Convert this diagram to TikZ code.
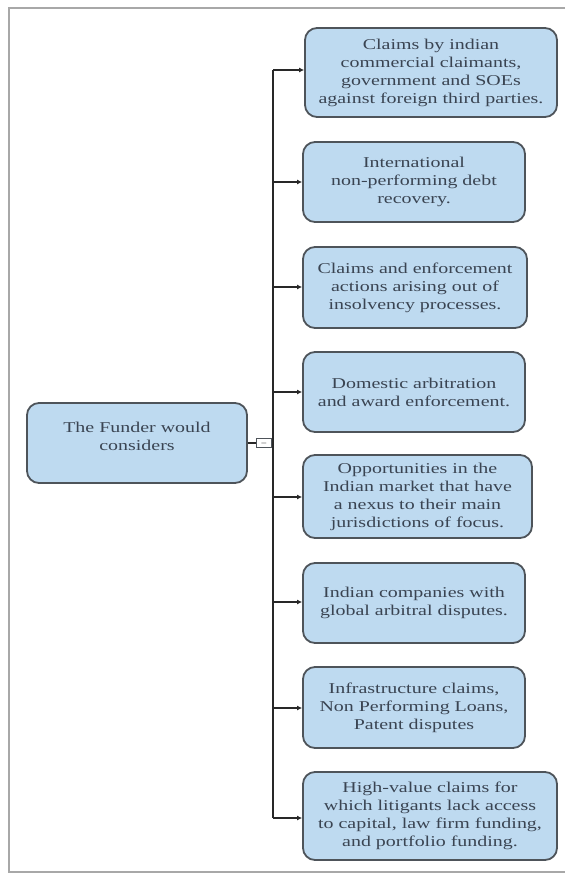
\documentclass[tikz,border=0pt]{standalone}
\usepackage{fontspec}
\setmainfont{Liberation Serif}[FakeStretch=1.33]
\usetikzlibrary{arrows.meta}
\definecolor{boxfill}{RGB}{190,218,240}
\definecolor{boxline}{RGB}{78,84,90}
\definecolor{txt}{RGB}{58,68,82}
\definecolor{framec}{RGB}{168,168,168}
\definecolor{conn}{RGB}{40,40,40}
\tikzset{
  topic/.style={draw=boxline, line width=1.8pt, fill=boxfill, rounded corners=12pt,
    align=center, text=txt, inner sep=0pt,
    font=\fontsize{15}{18}\selectfont},
  link/.style={draw=conn, line width=1.6pt},
  arr/.style={link, -{Latex[length=5pt,width=5pt]}},
}
\begin{document}
\begin{tikzpicture}[x=1pt,y=-1pt]
\useasboundingbox (0,0) rectangle (565,875);
% frame
\draw[framec, line width=2.5pt] (565,8) -- (9,8) -- (9,872) -- (565,872);
% boxes
\node[topic, minimum width=252pt, minimum height=89pt] (b1) at (431,72.5)
  {Claims by indian\\commercial claimants,\\government and SOEs\\against foreign third parties.};
\node[topic, minimum width=222pt, minimum height=80pt] (b2) at (414,182)
  {International\\non-performing debt\\recovery.};
\node[topic, minimum width=224pt, minimum height=81pt] (b3) at (415,287.5)
  {Claims and enforcement\\actions arising out of\\insolvency processes.};
\node[topic, minimum width=222pt, minimum height=80pt] (b4) at (414,392)
  {Domestic arbitration\\and award enforcement.};
\node[topic, minimum width=229pt, minimum height=83pt] (b5) at (417.5,496.5)
  {Opportunities in the\\Indian market that have\\a nexus to their main\\jurisdictions of focus.};
\node[topic, minimum width=222pt, minimum height=80pt] (b6) at (414,603)
  {Indian companies with\\global arbitral disputes.};
\node[topic, minimum width=222pt, minimum height=81pt] (b7) at (414,707.5)
  {Infrastructure claims,\\Non Performing Loans,\\Patent disputes};
\node[topic, minimum width=254pt, minimum height=88pt] (b8) at (430,816)
  {High-value claims for\\which litigants lack access\\to capital, law firm funding,\\and portfolio funding.};
\node[topic, minimum width=220pt, minimum height=80pt] (root) at (137,443)
  {The Funder would\\considers\\[-4pt]};
% collapse marker
\node[draw=boxline, fill=white, line width=0.8pt, minimum width=15pt, minimum height=9pt,
  inner sep=0pt, font=\fontsize{8}{8}\selectfont] (minus) at (264,443) {$-$};
% trunk coordinates
\foreach \i/\yy in {1/70,2/182,3/287,4/392,5/497,6/602,7/708,8/818}
  \coordinate (t\i) at (273,\yy);
\coordinate (tm) at (273,443);
\draw[link] (root.east) -- (minus.west);
\draw[link] (minus.east) -- (tm);
\draw[link] (t1) -- (t8);
\foreach \i in {1,...,8}
  \draw[arr] (t\i) -- (b\i.west |- t\i);
\end{tikzpicture}
\end{document}
